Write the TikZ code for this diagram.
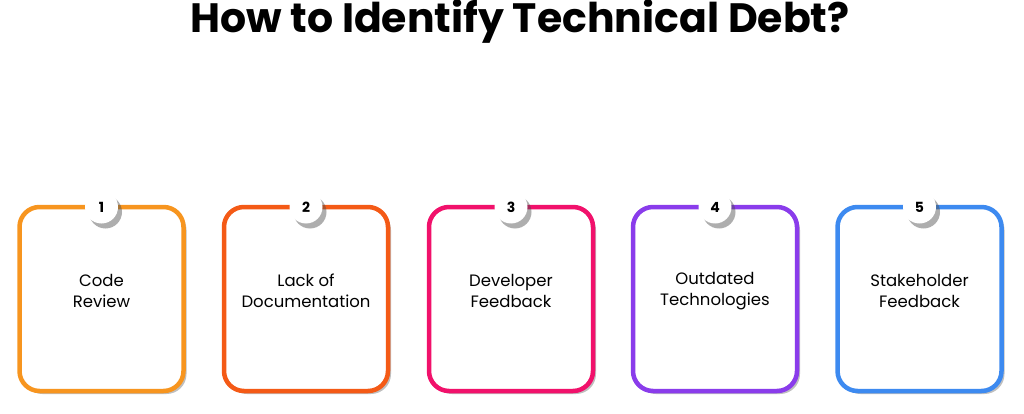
\documentclass[tikz,border=0pt]{standalone}
\usepackage{fontspec}
\setmainfont{Poppins}
\usetikzlibrary{shadows}
\definecolor{c1}{HTML}{F7951F}
\definecolor{c2}{HTML}{F45A16}
\definecolor{c3}{HTML}{F1116B}
\definecolor{c4}{HTML}{8A3CEB}
\definecolor{c5}{HTML}{3D8AF0}
\tikzset{
  card/.style={draw=#1,line width=4.5pt,rounded corners=20pt,fill=white,minimum width=164pt,minimum height=184pt,
    drop shadow={shadow xshift=3pt,shadow yshift=-3pt,opacity=0.25,fill=black}},
  badge/.style={circle,fill=white,minimum size=33pt,inner sep=0pt,font=\bfseries\fontsize{14}{14}\selectfont,
    drop shadow={shadow xshift=4pt,shadow yshift=-5pt,opacity=0.45,fill=black!70}},
  lbl/.style={align=center,font=\fontsize{16.5}{20.5}\selectfont}
}
\begin{document}
\begin{tikzpicture}[x=1pt,y=-1pt]
\useasboundingbox (0,0) rectangle (1024,414);
\node[font=\bfseries\fontsize{41}{41}\selectfont] (title) at (520,22) {How to Identify Technical Debt?};
\foreach \i/\x/\t in {1/101.5/{Code\\Review},2/306/{Lack of\\Documentation},3/511/{Developer\\Feedback},4/715/{Outdated\\Technologies},5/919.5/{Stakeholder\\Feedback}}{
  \node[card=c\i] (box\i) at (\x,299) {};
  \node[badge] (num\i) at (\x,207) {\i};
  \node[lbl] (txt\i) at (\x,291) {\t};
}
\end{tikzpicture}
\end{document}
